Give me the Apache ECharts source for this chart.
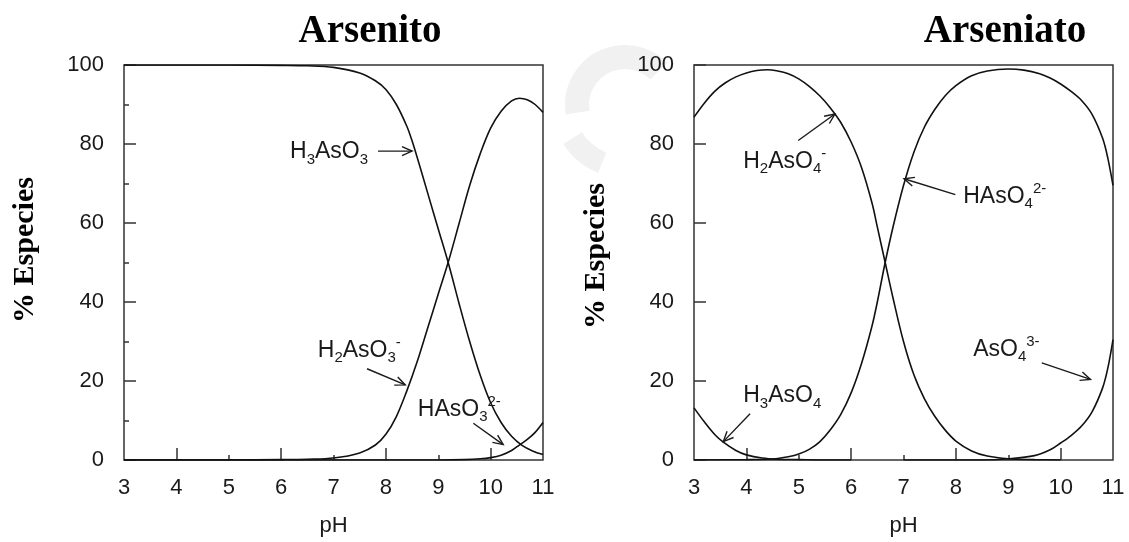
<!DOCTYPE html>
<html>
<head>
<meta charset="utf-8">
<script src="https://cdn.jsdelivr.net/npm/echarts@6/dist/echarts.min.js"></script>
<style>
  html, body { margin: 0; padding: 0; background: #ffffff; }
  #chart { width: 1129px; height: 542px; }
</style>
</head>
<body>
<div id="chart"></div>
<script>
// Axis ticks
const phMajorTicks = [4, 6, 8, 10];
const phMinorTicks = [5, 7, 9];

// Arsenite speciation: % of each species vs pH
const H3AsO3 = [[3,100],[4,100],[5,100],[6,99.9],[6.5,99.8],[7,99.4],[7.5,98],[7.8,96],[8,93.8],[8.2,90],[8.4,84.5],[8.5,80.8],[8.6,76.5],[8.8,67.5],[9,58.5],[9.2,49.5],[9.4,39.5],[9.6,30],[9.8,21.5],[10,14.5],[10.2,9.5],[10.4,6],[10.6,3.7],[10.8,2.3],[11,1.4]];
const H2AsO3 = [[3,0],[4,0],[5,0],[6,0.1],[6.5,0.2],[7,0.5],[7.5,1.8],[7.8,3.8],[8,6.5],[8.2,11],[8.4,17.5],[8.6,25],[8.8,33.5],[9,42],[9.2,50.5],[9.4,60],[9.6,69.5],[9.8,77.5],[10,84],[10.2,88.3],[10.4,90.9],[10.55,91.6],[10.7,91.2],[10.85,90],[11,88]];
const HAsO3 = [[3,0],[5,0],[7,0],[9,0],[9.5,0.1],[9.8,0.3],[10,0.6],[10.2,1.2],[10.4,2.4],[10.56,3.9],[10.7,5.2],[10.85,7],[11,9.5]];

// Arsenate speciation: % of each species vs pH
const H3AsO4 = [[3,13.2],[3.2,9.6],[3.4,6.4],[3.56,4.5],[3.8,2.4],[4,1.3],[4.3,0.5],[4.6,0.2],[5,0.1],[5.5,0],[6,0]];
const H2AsO4 = [[3,86.8],[3.2,90.4],[3.4,93.4],[3.6,95.5],[3.8,97],[4,98],[4.2,98.6],[4.4,98.8],[4.6,98.5],[4.8,97.8],[5,96.5],[5.2,94.6],[5.4,92.2],[5.6,89.2],[5.8,85.5],[6,80.5],[6.2,74],[6.4,65],[6.5,59],[6.65,50],[6.8,41],[7,30],[7.2,21.5],[7.4,15.5],[7.6,11],[7.8,7.5],[8,4.8],[8.3,2.3],[8.6,1],[9,0.3],[9.5,0.1],[10,0]];
const HAsO4 = [[3,0],[4,0.1],[4.4,0.2],[4.6,0.4],[4.8,0.8],[5,1.5],[5.2,2.7],[5.4,4.6],[5.6,7.6],[5.8,11.5],[6,17],[6.2,24.5],[6.4,34],[6.5,40],[6.65,50],[6.8,59],[7,69.5],[7.2,78],[7.4,84.3],[7.6,88.8],[7.8,92.3],[8,94.8],[8.3,97.3],[8.6,98.5],[9,99],[9.3,98.7],[9.6,97.8],[9.8,96.7],[10,95.2],[10.2,93.3],[10.4,91],[10.6,87.5],[10.8,81.5],[10.9,76.5],[11,69.5]];
const AsO4 = [[7,0],[8.5,0],[9,0.3],[9.5,1.1],[9.8,2.6],[10,4.3],[10.2,6.2],[10.4,8.6],[10.6,12.2],[10.8,18.2],[10.9,23.2],[11,30.5]];

// Species labels: text anchor, arrow tail and arrow head, in (pH, %) units
const arseniteNotes = [
  { text: '{m|H}{b|3}{m|AsO}{b|3}', at: [6.17, 78], from: [7.85, 78.2], to: [8.5, 78.2] },
  { text: '{m|H}{b|2}{m|AsO}{b|3}{p|-}', at: [6.70, 27.8], from: [7.64, 23.1], to: [8.37, 19] },
  { text: '{m|HAsO}{b|3}{p|2-}', at: [8.61, 12.8], from: [9.67, 9.3], to: [10.24, 3.9] }
];
const arsenateNotes = [
  { text: '{m|H}{b|2}{m|AsO}{b|4}{p|-}', at: [3.94, 75.6], from: [4.99, 80.9], to: [5.69, 87.6] },
  { text: '{m|HAsO}{b|4}{p|2-}', at: [8.14, 66.7], from: [7.99, 67.2], to: [7.01, 71.2] },
  { text: '{m|H}{b|3}{m|AsO}{b|4}', at: [3.94, 16.2], from: [4.07, 11.7], to: [3.56, 4.65] },
  { text: '{m|AsO}{b|4}{p|3-}', at: [8.33, 27.9], from: [9.64, 24.6], to: [10.57, 20.4] }
];

const INK = '#1a1a1a';
const SANS = '"Liberation Sans", Arial, sans-serif';
const SERIF = '"Liberation Serif", "Times New Roman", serif';

const noteRich = {
  m: { fontSize: 23, lineHeight: 23, fontFamily: SANS, color: INK },
  b: { fontSize: 15, lineHeight: 15, fontFamily: SANS, color: INK, padding: [15, 0, 0, 0] },
  p: { fontSize: 15, lineHeight: 15, fontFamily: SANS, color: INK, padding: [0, 0, 15, 0] }
};

function noteRenderer(notes) {
  return function (params, api) {
    const n = notes[params.dataIndex];
    const at = api.coord(n.at);
    const p0 = api.coord(n.from);
    const p1 = api.coord(n.to);
    const ang = Math.atan2(p1[1] - p0[1], p1[0] - p0[0]);
    const len = 11, spread = 0.42;
    const h1 = [p1[0] - len * Math.cos(ang - spread), p1[1] - len * Math.sin(ang - spread)];
    const h2 = [p1[0] - len * Math.cos(ang + spread), p1[1] - len * Math.sin(ang + spread)];
    return {
      type: 'group',
      children: [
        { type: 'text', x: at[0], y: at[1],
          style: { text: n.text, rich: noteRich, align: 'left', verticalAlign: 'middle', fill: INK } },
        { type: 'line', shape: { x1: p0[0], y1: p0[1], x2: p1[0], y2: p1[1] },
          style: { stroke: INK, lineWidth: 1.4 } },
        { type: 'polyline', shape: { points: [h1, p1, h2] },
          style: { stroke: INK, lineWidth: 1.4, fill: null } }
      ]
    };
  };
}

function mainX(gridIndex) {
  return {
    type: 'value', gridIndex, min: 3, max: 11, interval: 1,
    axisLine: { show: false },
    axisTick: { show: true, inside: true, length: 12, customValues: phMajorTicks,
                lineStyle: { color: '#333', width: 1.5 } },
    axisLabel: { color: INK, fontSize: 22, fontFamily: SANS, margin: 17 },
    splitLine: { show: false },
    name: 'pH', nameLocation: 'middle', nameGap: 55,
    nameTextStyle: { color: INK, fontSize: 22, fontFamily: SANS }
  };
}
function minorX(gridIndex) {
  return {
    type: 'value', gridIndex, min: 3, max: 11, interval: 1, position: 'bottom',
    axisLine: { show: false },
    axisTick: { show: true, inside: true, length: 5, customValues: phMinorTicks,
                lineStyle: { color: '#333', width: 1.5 } },
    axisLabel: { show: false },
    splitLine: { show: false }
  };
}
function mainY(gridIndex, withMinor) {
  return {
    type: 'value', gridIndex, min: 0, max: 100, interval: 20,
    axisLine: { show: false },
    axisTick: { show: true, inside: true, length: 12, lineStyle: { color: '#333', width: 1.5 } },
    minorTick: { show: withMinor, splitNumber: 2, length: 5, lineStyle: { color: '#333', width: 1.5 } },
    axisLabel: { color: INK, fontSize: 22, fontFamily: SANS, margin: 20 },
    splitLine: { show: false }
  };
}

function curve(data, xi, yi) {
  return {
    type: 'line', data, xAxisIndex: xi, yAxisIndex: yi,
    showSymbol: false, smooth: 0.35, silent: true,
    lineStyle: { color: '#111', width: 1.6 }
  };
}
function notes(list, xi, yi) {
  return {
    type: 'custom', xAxisIndex: xi, yAxisIndex: yi, clip: false, silent: true,
    data: list.map(n => n.to), encode: { x: 0, y: 1 },
    renderItem: noteRenderer(list), z: 5
  };
}

const chart = echarts.init(document.getElementById('chart'), null, { renderer: 'canvas' });
chart.setOption({
  animation: false,
  backgroundColor: '#ffffff',
  grid: [
    { left: 124, top: 65, width: 419, height: 399, show: true, borderColor: '#333', borderWidth: 1.5, backgroundColor: 'transparent' },
    { left: 694, top: 65, width: 419, height: 402, show: true, borderColor: '#333', borderWidth: 1.5, backgroundColor: 'transparent' }
  ],
  xAxis: [mainX(0), minorX(0), mainX(1), minorX(1)],
  yAxis: [mainY(0, true), mainY(1, false)],
  graphic: [
    // faint background emblem between the two panels
    { type: 'arc', z: -10, shape: { cx: 625, cy: 105, r: 48, startAngle: Math.PI * 0.95, endAngle: Math.PI * 1.75 },
      style: { stroke: '#f1f1f1', lineWidth: 24, fill: null } },
    { type: 'arc', z: -10, shape: { cx: 625, cy: 105, r: 62, startAngle: Math.PI * 0.62, endAngle: Math.PI * 0.82 },
      style: { stroke: '#f1f1f1', lineWidth: 22, fill: null } },
    { type: 'text', x: 370, y: 32, style: { text: 'Arsenito', font: 'bold 39px ' + SERIF, fill: '#000', align: 'center', verticalAlign: 'middle' } },
    { type: 'text', x: 1005, y: 32, style: { text: 'Arseniato', font: 'bold 39px ' + SERIF, fill: '#000', align: 'center', verticalAlign: 'middle' } },
    { type: 'text', x: 25, y: 250, rotation: Math.PI / 2, style: { text: '% Especies', font: 'bold 30px ' + SERIF, fill: '#000', align: 'center', verticalAlign: 'middle' } },
    { type: 'text', x: 596, y: 256, rotation: Math.PI / 2, style: { text: '% Especies', font: 'bold 30px ' + SERIF, fill: '#000', align: 'center', verticalAlign: 'middle' } }
  ],
  series: [
    curve(H3AsO3, 0, 0), curve(H2AsO3, 0, 0), curve(HAsO3, 0, 0),
    notes(arseniteNotes, 0, 0),
    curve(H3AsO4, 2, 1), curve(H2AsO4, 2, 1), curve(HAsO4, 2, 1), curve(AsO4, 2, 1),
    notes(arsenateNotes, 2, 1)
  ]
});
</script>
</body>
</html>
